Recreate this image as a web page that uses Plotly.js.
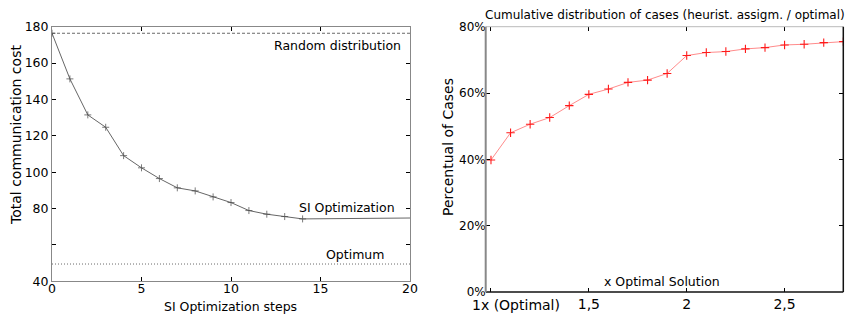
<!DOCTYPE html>
<html>
<head>
<meta charset="utf-8">
<script src="https://cdn.plot.ly/plotly-3.0.1.min.js"></script>
<style>html,body{margin:0;padding:0;background:#fff;}#chart{width:846px;height:314px;}</style>
</head>
<body>
<div id="chart"></div>
<script>
// Left chart: SI optimization
const siSteps = [0,1,2,3,4,5,6,7,8,9,10,11,12,13,14,20];
const siCost = [176.4,151.3,131.5,124.7,109.1,102.4,96.5,91.4,89.7,86.4,83.3,78.9,76.9,75.6,74.3,74.8];
const randomCost = 176.4;
const optimumCost = 49.5;
const leftYTicks = [40,60,80,100,120,140,160,180];
const leftYLabels = ['40','','80','100','120','140','160','180'];
const leftXTicks = [0,5,10,15,20];

// Right chart: cumulative distribution
const ratio = [1.0,1.1,1.2,1.3,1.4,1.5,1.6,1.7,1.8,1.9,2.0,2.1,2.2,2.3,2.4,2.5,2.6,2.7,2.8];
const pctCases = [39.8,48.0,50.6,52.6,56.2,59.6,61.2,63.2,63.9,65.9,71.3,72.2,72.5,73.3,73.7,74.5,74.7,75.2,75.5];
const rightXTicks = [1,1.5,2,2.5];
const rightXLabels = ['','1,5','2','2,5'];
const rightYTicks = [0,20,40,60,80];
const rightYLabels = ['0%','20%','40%','60%','80%'];

const F = '"DejaVu Sans"';
const W = 846, H = 314;
const L = {x0:52, x1:410, y0:26.7, y1:281.3};
const R = {x0:485.7, x1:843.3, y0:26.7, y1:292};
const dx = p => [p.x0/W, p.x1/W];
const dy = p => [1 - p.y1/H, 1 - p.y0/H];

const traces = [
  {x:[0,20], y:[randomCost,randomCost], xaxis:'x', yaxis:'y', mode:'lines',
   line:{color:'#444', width:0.8, dash:'3px,2px'}, hoverinfo:'skip'},
  {x:[0,20], y:[optimumCost,optimumCost], xaxis:'x', yaxis:'y', mode:'lines',
   line:{color:'#444', width:0.8, dash:'1px,2px'}, hoverinfo:'skip'},
  {x:siSteps, y:siCost, xaxis:'x', yaxis:'y', mode:'lines+markers',
   line:{color:'#666', width:1},
   marker:{symbol:'cross-thin', size:siSteps.map(s => s <= 14 ? 5 : 0), line:{color:'#444', width:1}}},
  {x:ratio, y:pctCases, xaxis:'x2', yaxis:'y2', mode:'lines+markers',
   line:{color:'rgba(255,90,90,0.7)', width:1},
   marker:{symbol:'cross-thin', size:6, line:{color:'#ff1a1a', width:1.1}}}
];

const axBase = {showgrid:false, zeroline:false, ticks:'inside', ticklen:4, tickcolor:'#000',
  tickfont:{family:F, size:12, color:'#000'}, fixedrange:true};

const layout = {
  width:W, height:H, margin:{l:0,r:0,t:0,b:0},
  paper_bgcolor:'#fff', plot_bgcolor:'#fff', showlegend:false,
  font:{family:F, color:'#000'},
  xaxis:Object.assign({}, axBase, {domain:dx(L), range:[0,20], tickvals:leftXTicks,
    showline:true, linecolor:'#888', linewidth:1, mirror:'ticks', anchor:'y', ticklabelstandoff:-4,
    tickfont:{family:F, size:12.5, color:'#000'}}),
  yaxis:Object.assign({}, axBase, {domain:dy(L), range:[40,180], tickvals:leftYTicks, ticktext:leftYLabels,
    showline:true, linecolor:'#888', linewidth:1, mirror:'ticks', anchor:'x', ticklabelstandoff:0,
    tickfont:{family:F, size:12.5, color:'#000'}}),
  xaxis2:Object.assign({}, axBase, {domain:dx(R), range:[0.973,2.80], tickvals:rightXTicks, ticktext:rightXLabels,
    showline:false, mirror:'ticks', anchor:'y2', ticklabelstandoff:2,
    tickfont:{family:F, size:14, color:'#000'}}),
  yaxis2:Object.assign({}, axBase, {domain:dy(R), range:[0,80], tickvals:rightYTicks, ticktext:rightYLabels,
    showline:false, mirror:'ticks', anchor:'x2', ticklabelstandoff:-1}),
  shapes:[
    {type:'line', xref:'x2 domain', yref:'y2 domain', x0:0, x1:1, y0:1, y1:1, line:{color:'#bbb', width:1}},
    {type:'line', xref:'x2 domain', yref:'y2 domain', x0:0, x1:1, y0:0, y1:0, line:{color:'#111', width:1.5}},
    {type:'line', xref:'x2 domain', yref:'y2 domain', x0:1, x1:1, y0:0, y1:1, line:{color:'#111', width:1.5}},
    {type:'line', xref:'x2 domain', yref:'y2 domain', x0:0, x1:0, y0:0, y1:1, line:{color:'#888', width:2}}
  ],
  annotations:[
    {text:'Random distribution', xref:'x', yref:'y', x:19.6, y:169.5, xanchor:'right', yanchor:'middle', showarrow:false, font:{family:F, size:12.5}},
    {text:'SI Optimization', xref:'x', yref:'y', x:16.5, y:80.5, xanchor:'center', yanchor:'middle', showarrow:false, font:{family:F, size:12.5}},
    {text:'Optimum', xref:'x', yref:'y', x:16.9, y:54.5, xanchor:'center', yanchor:'middle', showarrow:false, font:{family:F, size:12.5}},
    {text:'SI Optimization steps', xref:'paper', yref:'paper', x:230/W, y:1-306.5/H, xanchor:'center', yanchor:'middle', showarrow:false, font:{family:F, size:12.5}},
    {text:'Total communication cost', xref:'paper', yref:'paper', x:16/W, y:1-135/H, xanchor:'center', yanchor:'middle', textangle:-90, showarrow:false, font:{family:F, size:14}},
    {text:'Cumulative distribution of cases (heurist. assigm. / optimal)', xref:'paper', yref:'paper', x:483/W, y:1-15/H, xanchor:'left', yanchor:'middle', showarrow:false, font:{family:F, size:12}},
    {text:'x Optimal Solution', xref:'paper', yref:'paper', x:662/W, y:1-281/H, xanchor:'center', yanchor:'middle', showarrow:false, font:{family:F, size:12.5}},
    {text:'Percentual of Cases', xref:'paper', yref:'paper', x:448/W, y:1-147/H, xanchor:'center', yanchor:'middle', textangle:-90, showarrow:false, font:{family:F, size:14}},
    {text:'1x (Optimal)', xref:'paper', yref:'paper', x:516/W, y:1-304.5/H, xanchor:'center', yanchor:'middle', showarrow:false, font:{family:F, size:14}}
  ]
};

Plotly.newPlot('chart', traces, layout, {staticPlot:true, displayModeBar:false});
</script>
</body>
</html>
